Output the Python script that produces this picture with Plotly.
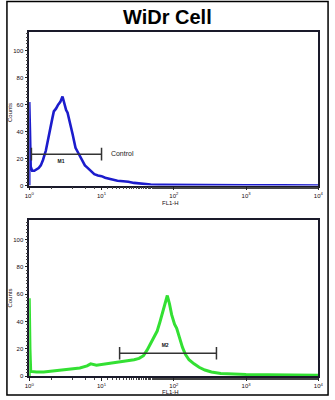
import plotly.graph_objects as go

W, H = 335, 400

# ---- data (x in log10 units of FL1-H, y in counts) ----
top_log = [0.0, 0.0, 0.01, 0.02, 0.04, 0.07, 0.10, 0.13, 0.16, 0.19, 0.23, 0.26, 0.30, 0.32,
           0.34, 0.37, 0.40, 0.43, 0.46, 0.48, 0.51, 0.53, 0.55, 0.58, 0.60, 0.62, 0.64, 0.66,
           0.68, 0.70, 0.72, 0.75, 0.77, 0.80, 0.83, 0.86, 0.90, 0.95, 1.00, 1.05, 1.10, 1.16,
           1.22, 1.30, 1.37, 1.45, 1.55, 1.68, 1.85, 2.0, 2.3, 2.6, 3.0, 3.5, 4.0]
top_counts = [0, 62, 40, 14, 11, 11, 12, 13, 15, 19, 26, 35, 45, 50,
              55, 57, 60, 62, 66, 61, 56, 54, 50, 43, 38, 33, 28, 26,
              24, 22, 20, 17, 15, 13.5, 12, 10, 8.5, 7.5, 7, 5.8, 5, 4.2,
              3.6, 3.2, 2.9, 2.0, 1.4, 0.8, 0.6, 0.5, 0.4, 0.3, 0.2, 0.15, 0.1]

bot_log = [0.0, 0.0, 0.01, 0.02, 0.1, 0.2, 0.3, 0.4, 0.5, 0.6, 0.7, 0.8, 0.85, 0.93, 1.0,
           1.1, 1.2, 1.3, 1.38, 1.45, 1.52, 1.58, 1.63, 1.68, 1.73, 1.77, 1.81, 1.85, 1.88,
           1.91, 1.94, 1.97, 2.01, 2.04, 2.08, 2.12, 2.16, 2.21, 2.28, 2.35, 2.43, 2.52,
           2.65, 2.8, 3.0, 3.3, 3.6, 4.0]
bot_counts = [0, 57, 20, 3.5, 3, 3, 3.5, 4, 4.5, 5, 6, 7.5, 9, 8, 8.5,
              9.5, 10, 10.5, 11, 12, 13, 15, 19, 24, 29, 33, 40, 48, 55,
              59, 53, 45, 38, 35, 28, 21, 16, 12, 9, 6.5, 4.5, 3,
              2, 1.5, 1.2, 1.0, 0.8, 0.7]

m1_log = [0.03, 1.0]
m1_count = 23.3
m2_log = [1.25, 2.59]
m2_count = 16.8

y_ticks = [0, 20, 40, 60, 80, 100]
x_ticks = [1, 10, 100, 1000, 10000]
x_ticklabels = ["10<sup>0</sup>", "10<sup>1</sup>", "10<sup>2</sup>", "10<sup>3</sup>", "10<sup>4</sup>"]

def lin(v):
    return [10 ** a for a in v]

fig = go.Figure()

# histograms
fig.add_trace(go.Scatter(x=lin(top_log), y=top_counts, mode="lines",
                         line=dict(color="#1c1ccc", width=2.6), xaxis="x", yaxis="y", showlegend=False))
fig.add_trace(go.Scatter(x=lin(bot_log), y=bot_counts, mode="lines",
                         line=dict(color="#33e033", width=3), xaxis="x2", yaxis="y2", showlegend=False))

# markers
bar_col = "#333333"
fig.add_trace(go.Scatter(x=lin(m1_log), y=[m1_count, m1_count], mode="lines+markers",
                         line=dict(color=bar_col, width=1.5),
                         marker=dict(symbol="line-ns", size=9, line=dict(color=bar_col, width=1.5)),
                         xaxis="x", yaxis="y", showlegend=False))
fig.add_trace(go.Scatter(x=lin(m2_log), y=[m2_count, m2_count], mode="lines+markers",
                         line=dict(color=bar_col, width=1.5),
                         marker=dict(symbol="line-ns", size=9, line=dict(color=bar_col, width=1.5)),
                         xaxis="x2", yaxis="y2", showlegend=False))

# marker labels (text traces)
fig.add_trace(go.Scatter(x=[10 ** 0.44], y=[17.5], mode="text", text=["<b>M1</b>"],
                         textfont=dict(size=5, color="#111", family="Liberation Sans"),
                         xaxis="x", yaxis="y", showlegend=False))
fig.add_trace(go.Scatter(x=[10 ** 1.13], y=[m1_count], mode="text", text=["Control"],
                         textposition="middle right",
                         textfont=dict(size=7, color="#222", family="Liberation Sans"),
                         xaxis="x", yaxis="y", showlegend=False))
fig.add_trace(go.Scatter(x=[10 ** 1.88], y=[22], mode="text", text=["<b>M2</b>"],
                         textfont=dict(size=5, color="#111", family="Liberation Sans"),
                         xaxis="x2", yaxis="y2", showlegend=False))

xl, xr = 25 / W, 323 / W
top_dom = [1 - 187 / H, 1 - 32 / H]
bot_dom = [1 - 379 / H, 1 - 222 / H]

axis_common = dict(showline=True, linecolor="#1a1a2a", linewidth=1.5, mirror=True,
                   showgrid=False, zeroline=False)

lab_col = "#180a10"
xaxis_common = dict(type="log", range=[0, 4], tickvals=x_ticks, ticktext=x_ticklabels,
                    ticks="outside", ticklen=3, tickcolor="#222",
                    tickfont=dict(size=6, color=lab_col, family="Liberation Sans"),
                    minor=dict(ticks="outside", ticklen=2, tickcolor="#444", showgrid=False),
                    domain=[xl, xr], **axis_common)
yaxis_common = dict(range=[0, 114], tickvals=y_ticks, ticktext=[str(v) for v in y_ticks],
                    ticks="outside", ticklen=3, tickcolor="#222",
                    tickfont=dict(size=6, color=lab_col, family="Liberation Sans"),
                    minor=dict(ticks="outside", ticklen=2, dtick=2.5, tickcolor="#444", showgrid=False),
                    **axis_common)

def note(text, px, py, size=6, angle=0, bold=False):
    return dict(text=text, x=px / W, y=1 - py / H, xref="paper", yref="paper",
                xanchor="center", yanchor="middle", textangle=angle, showarrow=False,
                font=dict(size=size, color=lab_col if not bold else "black",
                          family="Liberation Sans"))

fig.update_layout(
    width=W, height=H, margin=dict(l=0, r=0, t=0, b=0),
    paper_bgcolor="white", plot_bgcolor="white",
    xaxis=dict(anchor="y", **xaxis_common),
    yaxis=dict(anchor="x", domain=top_dom, **yaxis_common),
    xaxis2=dict(anchor="y2", **xaxis_common),
    yaxis2=dict(anchor="x2", domain=bot_dom, **yaxis_common),
    annotations=[
        note("<b>WiDr Cell</b>", 167, 17, size=20, bold=True),
        note("FL1-H", 171, 205),
        note("FL1-H", 171, 395),
        note("Counts", 5, 113, angle=-90),
        note("Counts", 5, 300, angle=-90),
    ],
    shapes=[
        dict(type="rect", xref="paper", yref="paper", x0=2 / W, x1=333 / W,
             y0=1 - 398 / H, y1=1 - 1.5 / H, line=dict(color="black", width=1.5)),
    ],
)

fig.write_html("out.html")
